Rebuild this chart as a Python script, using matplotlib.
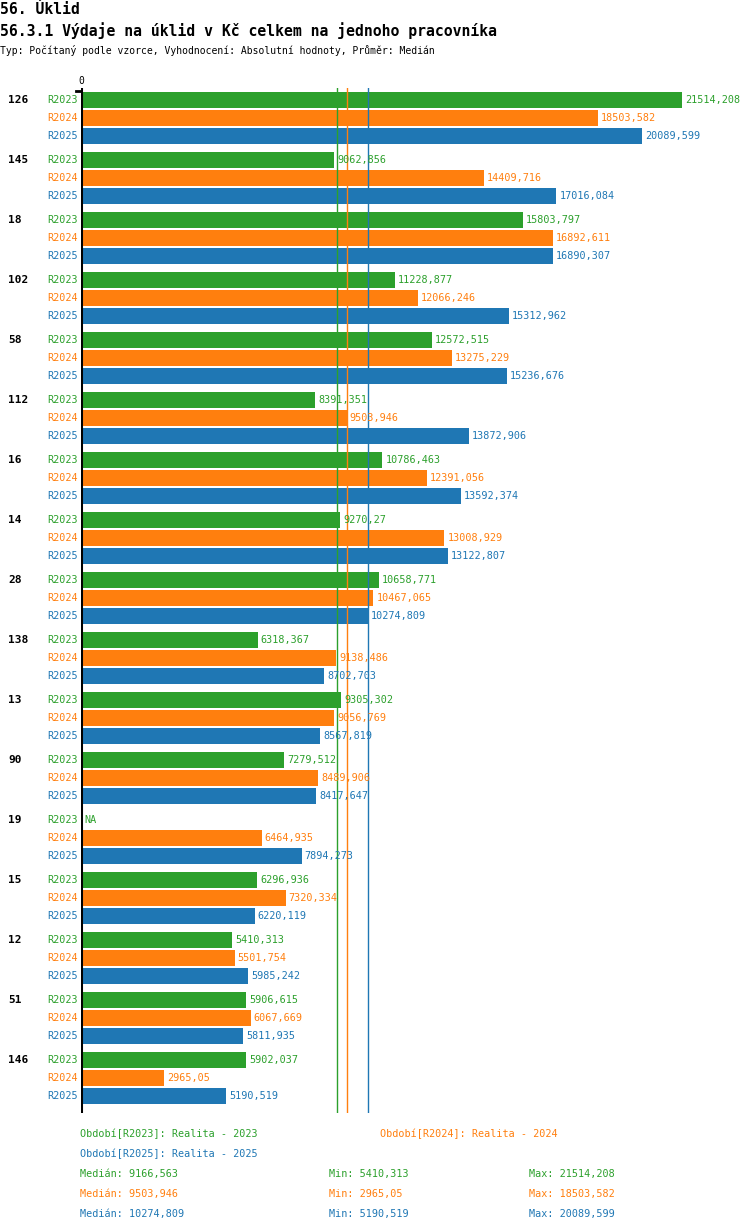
import matplotlib
matplotlib.use("Agg")
import matplotlib.pyplot as plt
import numpy as np

groups = ["126", "145", "18", "102", "58", "112", "16", "14", "28", "138",
          "13", "90", "19", "15", "12", "51", "146"]
series = ["R2023", "R2024", "R2025"]
r2023 = [21514.208, 9062.856, 15803.797, 11228.877, 12572.515, 8391.351, 10786.463,
         9270.27, 10658.771, 6318.367, 9305.302, 7279.512, None, 6296.936, 5410.313,
         5906.615, 5902.037]
r2024 = [18503.582, 14409.716, 16892.611, 12066.246, 13275.229, 9503.946, 12391.056,
         13008.929, 10467.065, 9138.486, 9056.769, 8489.906, 6464.935, 7320.334,
         5501.754, 6067.669, 2965.05]
r2025 = [20089.599, 17016.084, 16890.307, 15312.962, 15236.676, 13872.906, 13592.374,
         13122.807, 10274.809, 8702.703, 8567.819, 8417.647, 7894.273, 6220.119,
         5985.242, 5811.935, 5190.519]
medians = [9166.563, 9503.946, 10274.809]
mins = ["5410,313", "2965,05", "5190,519"]
maxs = ["21514,208", "18503,582", "20089,599"]
period_names = ["Období[R2023]: Realita - 2023", "Období[R2024]: Realita - 2024",
                "Období[R2025]: Realita - 2025"]
colors = ["#2ca02c", "#ff7f0e", "#1f77b4"]

W, H = 750, 1232
fig = plt.figure(figsize=(W / 100, H / 100), dpi=100)
mono = "DejaVu Sans Mono"
PT = 72 / 100  # points per pixel

def fx(px):
    return px / W

def fy(py):
    return 1 - py / H

# axes area: x 81..741 px, y 88..1113 px
ax_left, ax_right, ax_top, ax_bot = 81, 741, 88, 1113
ax = fig.add_axes([fx(ax_left), fy(ax_bot), fx(ax_right - ax_left), (ax_bot - ax_top) / H])
xmax = (ax_right - ax_left) / 0.02794
ax.set_xlim(0, xmax)
ax.set_ylim(ax_bot - 100, ax_top - 100)
ax.axis("off")

data = [r2023, r2024, r2025]
for gi, g in enumerate(groups):
    for si in range(3):
        y = gi * 60 + si * 18
        v = data[si][gi]
        if v is None:
            ax.annotate("NA", (0, y), xytext=(3 * PT, 0), textcoords="offset points",
                        color=colors[si], fontsize=7.3, family=mono,
                        va="center", ha="left")
        else:
            ax.barh(y, v, height=16, color=colors[si], left=0, zorder=2)
            lbl = repr(v).replace(".", ",")
            ax.annotate(lbl, (v, y), xytext=(3 * PT, 0), textcoords="offset points",
                        color=colors[si], fontsize=7.3, family=mono,
                        va="center", ha="left", zorder=4)
        ax.annotate(series[si], (0, y), xytext=(-3 * PT, 0), textcoords="offset points",
                    color=colors[si], fontsize=7.3, family=mono, va="center",
                    ha="right", annotation_clip=False)
    ax.annotate(g, (0, gi * 60), xytext=(-73 * PT, 0), textcoords="offset points",
                color="black", fontsize=8, family=mono, fontweight="bold",
                va="center", ha="left", annotation_clip=False)

for m, c in zip(medians, colors):
    ax.axvline(m, color=c, lw=1, zorder=3)

ax.axvline(0, color="black", lw=2.2, zorder=5)
ax.plot([-5 * xmax / 660, 0], [ax_top - 100 + 3, ax_top - 100 + 3], color="black",
        lw=2, clip_on=False, zorder=5)
ax.annotate("0", (0, ax_top - 100), xytext=(0, 2 * PT), textcoords="offset points",
            fontsize=7, family=mono, ha="center", va="bottom", annotation_clip=False)

fig.text(fx(0), fy(9), "56. Úklid", fontsize=10.6, family=mono, fontweight="bold",
         va="center", ha="left")
fig.text(fx(0), fy(31), "56.3.1 Výdaje na úklid v Kč celkem na jednoho pracovníka",
         fontsize=10.6, family=mono, fontweight="bold", va="center", ha="left")
fig.text(fx(0), fy(51), "Typ: Počítaný podle vzorce, Vyhodnocení: Absolutní hodnoty, Průměr: Medián",
         fontsize=7, family=mono, va="center", ha="left")

fig.text(fx(80), fy(1134), period_names[0], color=colors[0], fontsize=7.3, family=mono,
         va="center", ha="left")
fig.text(fx(380), fy(1134), period_names[1], color=colors[1], fontsize=7.3, family=mono,
         va="center", ha="left")
fig.text(fx(80), fy(1154), period_names[2], color=colors[2], fontsize=7.3, family=mono,
         va="center", ha="left")
for i in range(3):
    yy = 1174 + i * 20
    med_lbl = repr(medians[i]).replace(".", ",")
    fig.text(fx(80), fy(yy), "Medián: " + med_lbl, color=colors[i], fontsize=7.3,
             family=mono, va="center", ha="left")
    fig.text(fx(329), fy(yy), "Min: " + mins[i], color=colors[i], fontsize=7.3,
             family=mono, va="center", ha="left")
    fig.text(fx(529), fy(yy), "Max: " + maxs[i], color=colors[i], fontsize=7.3,
             family=mono, va="center", ha="left")

fig.savefig("out.png", dpi=100)
